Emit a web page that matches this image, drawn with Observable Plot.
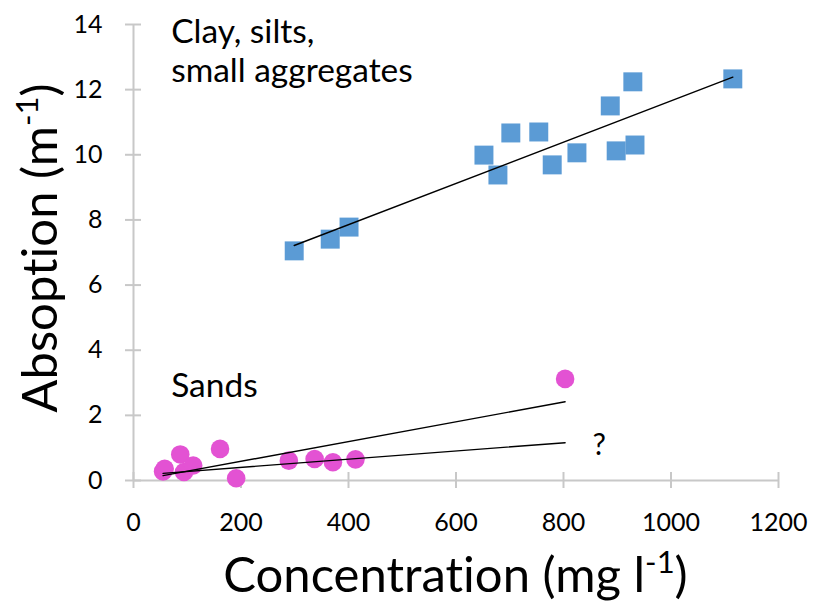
<!DOCTYPE html>
<html>
<head>
<meta charset="utf-8">
<script src="https://cdn.jsdelivr.net/npm/d3@7"></script>
<script src="https://cdn.jsdelivr.net/npm/@observablehq/plot@0.6"></script>
<style>
  html, body { margin: 0; padding: 0; background: #fff; }
  #chart svg { display: block; }
  #chart svg, #chart svg text { font-variant-ligatures: none; font-feature-settings: "liga" 0, "clig" 0, "dlig" 0; }
</style>
</head>
<body>
<div id="chart"></div>
<script>
// Clay, silts and small aggregates: concentration (mg/l) vs absorption (1/m)
const clayConc = [299, 366, 401, 652, 678, 702, 754, 779, 825, 887, 898, 933, 929, 1115];
const clayAbs  = [7.05, 7.41, 7.78, 9.99, 9.38, 10.67, 10.70, 9.69, 10.06, 11.50, 10.12, 10.30, 12.24, 12.33];

// Sands
const sandConc = [55, 58, 87, 94, 111, 161, 191, 289, 337, 371, 413, 803];
const sandAbs  = [0.28, 0.36, 0.80, 0.26, 0.46, 0.97, 0.07, 0.61, 0.66, 0.56, 0.65, 3.12];

// Tentative sand trend ignoring the high outlier ("?")
const sandGuessConc = [55, 803];
const sandGuessAbs  = [0.22, 1.16];

const xTicks = [0, 200, 400, 600, 800, 1000, 1200];
const yTicks = [0, 2, 4, 6, 8, 10, 12, 14];

const clay = clayConc.map((c, i) => ({conc: c, abs: clayAbs[i]}));
const sand = sandConc.map((c, i) => ({conc: c, abs: sandAbs[i]}));
const sandGuess = sandGuessConc.map((c, i) => ({conc: c, abs: sandGuessAbs[i]}));

const axisColor = "#c8c8c8";
const font = "Lato, 'Open Sans', sans-serif";
const plain = d => String(d);
// zero-width non-joiner keeps "t" and "i" as separate glyphs
const ZWNJ = "\u200C";

const plot = Plot.plot({
  width: 813,
  height: 607,
  marginLeft: 133,
  marginRight: 35,
  marginTop: 24,
  marginBottom: 127,
  x: {domain: [0, 1200]},
  y: {domain: [0, 14]},
  style: {fontFamily: font, background: "white", overflow: "visible", color: "#000"},
  marks: [
    // axis lines
    Plot.ruleX([0], {stroke: axisColor, strokeWidth: 2}),
    Plot.ruleY([0], {stroke: axisColor, strokeWidth: 2}),
    // crossing tick marks
    Plot.axisY(yTicks, {tickSize: 16, dx: 8, tickFormat: () => "", stroke: axisColor, strokeWidth: 2, label: null}),
    Plot.axisX(xTicks, {tickSize: 16, dy: -8, tickFormat: () => "", stroke: axisColor, strokeWidth: 2, label: null}),
    // tick labels
    Plot.axisY(yTicks, {tickSize: 0, tickPadding: 31, tickFormat: plain, fontSize: 25, fill: "#000", label: null}),
    Plot.axisX(xTicks, {tickSize: 0, tickPadding: 33, tickFormat: plain, fontSize: 25, fill: "#000", label: null}),
    // series
    Plot.dot(clay, {x: "conc", y: "abs", symbol: "square", r: 10.7, fill: "#5b9bd5"}),
    Plot.dot(sand, {x: "conc", y: "abs", r: 9.3, fill: "#e352d3"}),
    // trend lines
    Plot.linearRegressionY(clay, {x: "conc", y: "abs", stroke: "#000", strokeWidth: 1.4, ci: 0}),
    Plot.linearRegressionY(sand, {x: "conc", y: "abs", stroke: "#000", strokeWidth: 1.4, ci: 0}),
    Plot.line(sandGuess, {x: "conc", y: "abs", stroke: "#000", strokeWidth: 1.4}),
    // annotations
    Plot.text(["Clay, silts,\nsmall aggregates"], {x: 70, y: 14.28, text: d => d, textAnchor: "start", lineAnchor: "top", lineHeight: 1.164, fontSize: 33.5, fill: "#000"}),
    Plot.text(["Sands"], {x: 70, y: 3.285, text: d => d, textAnchor: "start", lineAnchor: "top", fontSize: 33.5, fill: "#000"}),
    Plot.text(["?"], {x: 854, y: 1.44, text: d => d, textAnchor: "start", lineAnchor: "top", fontSize: 30, fill: "#000"})
  ]
});

document.getElementById("chart").appendChild(plot);

// axis titles with superscript exponents
const sx = plot.scale("x"), sy = plot.scale("y");
const svg = d3.select(plot);
const titleSize = 49, supSize = 31, supShift = 19;

const xt = svg.append("text")
  .attr("x", (sx.apply(0) + sx.apply(1200)) / 2)
  .attr("y", 592)
  .attr("text-anchor", "middle")
  .attr("font-family", font)
  .attr("font-size", titleSize)
  .attr("fill", "#000");
xt.append("tspan").text(`Concentrat${ZWNJ}ion (mg l`);
xt.append("tspan").attr("font-size", supSize).attr("dy", -supShift).text("-1");
xt.append("tspan").attr("dy", supShift).text(")");

const yc = (sy.apply(0) + sy.apply(14)) / 2;
const yt = svg.append("text")
  .attr("transform", `translate(57,${yc - 4}) rotate(-90)`)
  .attr("text-anchor", "middle")
  .attr("font-family", font)
  .attr("font-size", titleSize)
  .attr("fill", "#000");
yt.append("tspan").text(`Absopt${ZWNJ}ion (m`);
yt.append("tspan").attr("font-size", supSize).attr("dy", -supShift).text("-1");
yt.append("tspan").attr("dy", supShift).text(")");
</script>
</body>
</html>
